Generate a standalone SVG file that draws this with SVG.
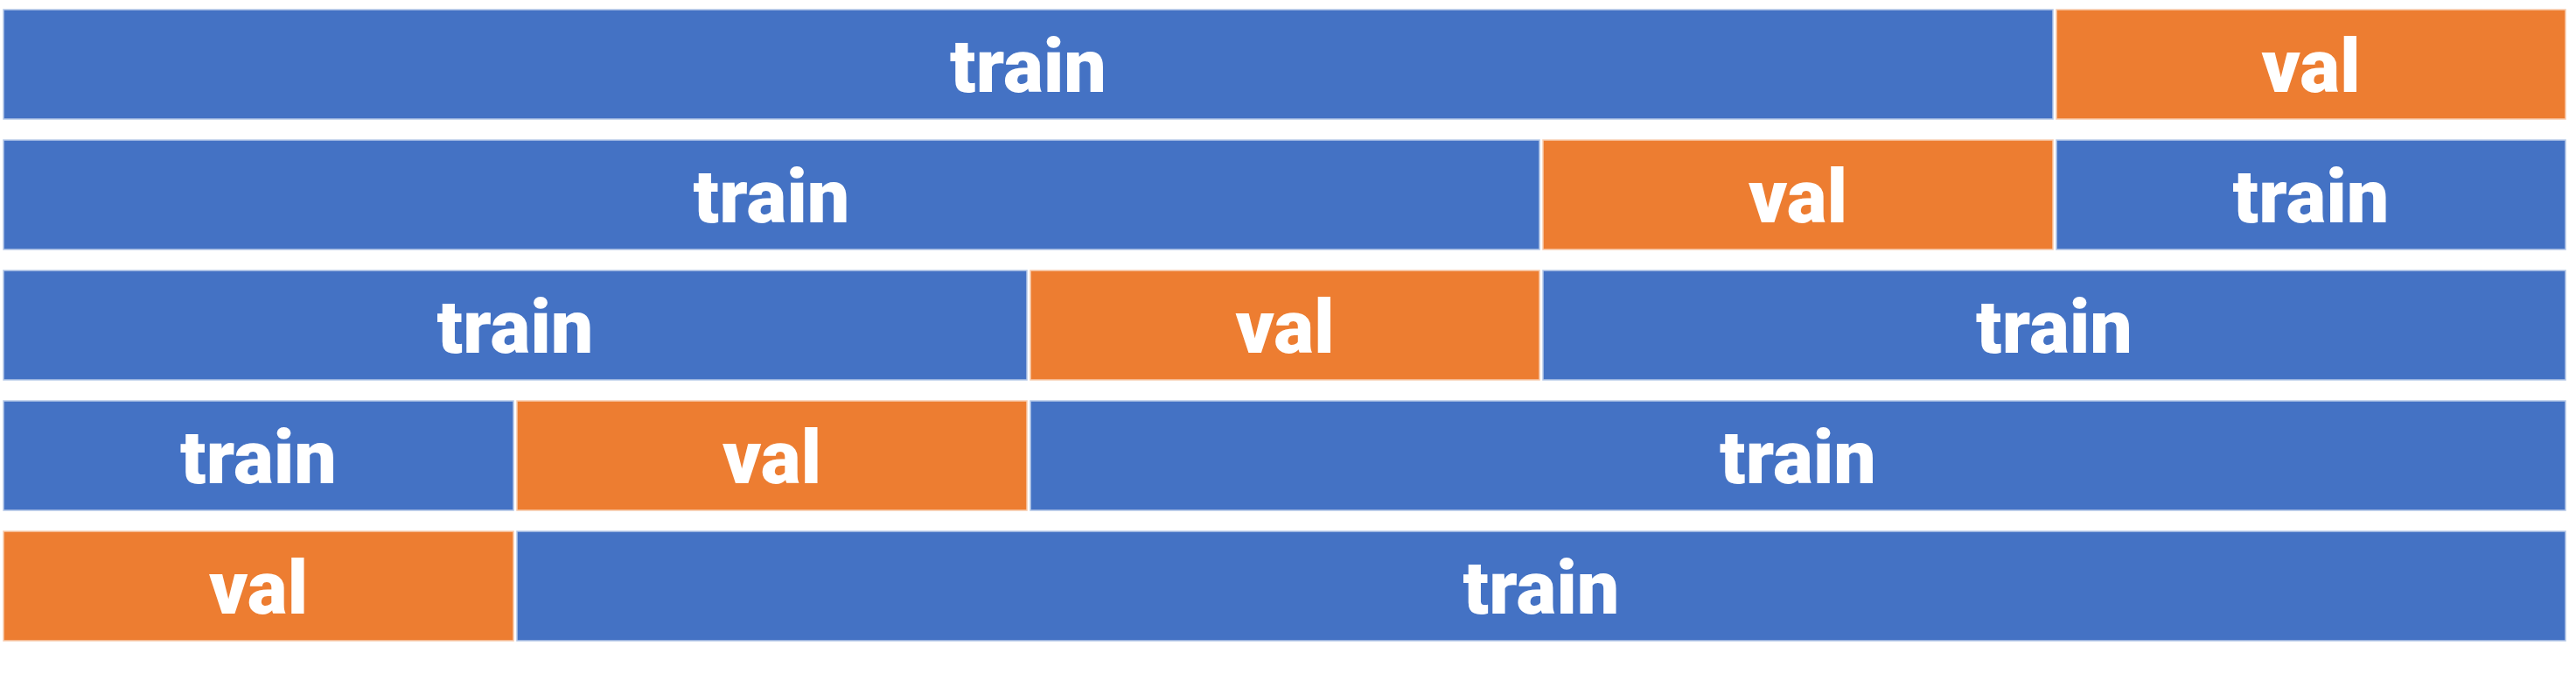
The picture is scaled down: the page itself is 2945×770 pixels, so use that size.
<svg xmlns="http://www.w3.org/2000/svg" width="2945" height="770" viewBox="0 0 2945 770">
<style>
.tr{fill:#4472C4;stroke:#B4C7E7;stroke-width:1.5}
.va{fill:#ED7D31;stroke:#F8CBAD;stroke-width:1.5}
text{font-family:Roboto,"Noto Sans","Liberation Sans",sans-serif;font-weight:900;font-size:86px;fill:#fff;text-anchor:middle}
</style>
<rect width="2945" height="770" fill="#fff"/>
<g id="row1">
<g id="r1-train"><rect class="tr" x="4" y="11" width="2343" height="125"/><text x="1175.5" y="105">train</text></g>
<g id="r1-val"><rect class="va" x="2351" y="11" width="582" height="125"/><text x="2642" y="105">val</text></g>
</g>
<g id="row2">
<g id="r2-train1"><rect class="tr" x="4" y="160" width="1756" height="125"/><text x="882" y="254">train</text></g>
<g id="r2-val"><rect class="va" x="1764" y="160" width="583" height="125"/><text x="2055.5" y="254">val</text></g>
<g id="r2-train2"><rect class="tr" x="2351" y="160" width="582" height="125"/><text x="2642" y="254">train</text></g>
</g>
<g id="row3">
<g id="r3-train1"><rect class="tr" x="4" y="309" width="1170" height="125"/><text x="589" y="403">train</text></g>
<g id="r3-val"><rect class="va" x="1178" y="309" width="582" height="125"/><text x="1469" y="403">val</text></g>
<g id="r3-train2"><rect class="tr" x="1764" y="309" width="1169" height="125"/><text x="2348.5" y="403">train</text></g>
</g>
<g id="row4">
<g id="r4-train1"><rect class="tr" x="4" y="458" width="583" height="125"/><text x="295.5" y="552">train</text></g>
<g id="r4-val"><rect class="va" x="591" y="458" width="583" height="125"/><text x="882.5" y="552">val</text></g>
<g id="r4-train2"><rect class="tr" x="1178" y="458" width="1755" height="125"/><text x="2055.5" y="552">train</text></g>
</g>
<g id="row5">
<g id="r5-val"><rect class="va" x="4" y="607" width="583" height="125"/><text x="295.5" y="701">val</text></g>
<g id="r5-train"><rect class="tr" x="591" y="607" width="2342" height="125"/><text x="1762" y="701">train</text></g>
</g>
<g id="connectors"/>
</svg>
